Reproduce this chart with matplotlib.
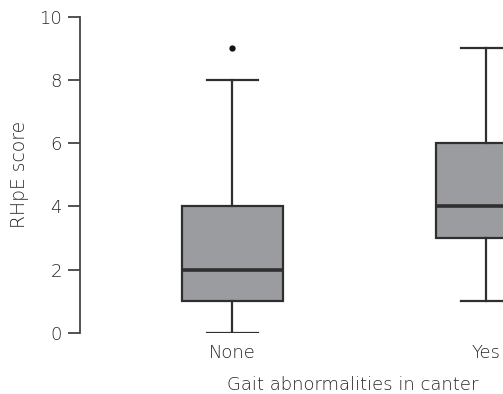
import matplotlib.pyplot as plt

plt.rcParams['font.family'] = ['DejaVu Sans']

groups = ['None', 'Yes']
whisker_low = [0, 1]
q1 = [1, 3]
medians = [2, 4]
q3 = [4, 6]
whisker_high = [8, 9]
outliers = [[9], []]

stats = []
for i in range(len(groups)):
    stats.append({
        'label': groups[i],
        'whislo': whisker_low[i],
        'q1': q1[i],
        'med': medians[i],
        'q3': q3[i],
        'whishi': whisker_high[i],
        'fliers': outliers[i],
    })

W, H = 503, 394
fig = plt.figure(figsize=(W / 100, H / 100), dpi=100)
# axes run past the right edge of the figure, so the second box is cut off
left, right = 80, 626
bottom, top = 333, 16.5
ax = fig.add_axes([left / W, 1 - bottom / H, (right - left) / W, (bottom - top) / H])

edge = '#2f2f2f'
text_col = '#262626'
ax.bxp(stats, positions=[0, 1], widths=0.4, patch_artist=True,
       boxprops=dict(facecolor='#9b9c9f', edgecolor=edge, linewidth=1.6),
       medianprops=dict(color=edge, linewidth=2.6),
       whiskerprops=dict(color=edge, linewidth=1.6),
       capprops=dict(color=edge, linewidth=1.6),
       capwidths=0.2,
       flierprops=dict(marker='o', markersize=3.5, markerfacecolor='#111111',
                       markeredgecolor='#111111'))

ax.set_xlim(-0.6, 1.55)
ax.set_ylim(0, 10)
ax.set_yticks([0, 2, 4, 6, 8, 10])
for s in ['top', 'right', 'bottom']:
    ax.spines[s].set_visible(False)
ax.spines['left'].set_color('#444444')
ax.spines['left'].set_linewidth(1.3)
ax.tick_params(axis='y', length=9, width=1.3, color='#444444', labelcolor=text_col,
               labelsize=13, pad=4)
ax.tick_params(axis='x', length=0, labelcolor=text_col, labelsize=13, pad=8)
for lab in ax.get_xticklabels() + ax.get_yticklabels():
    lab.set_fontweight('light')
ax.set_ylabel('RHpE score', color=text_col, fontsize=13.5, labelpad=7,
              fontweight='light')
ax.set_xlabel('Gait abnormalities in canter', color=text_col, fontsize=13,
              labelpad=10, fontweight='light')

fig.savefig('out.png', dpi=100)
